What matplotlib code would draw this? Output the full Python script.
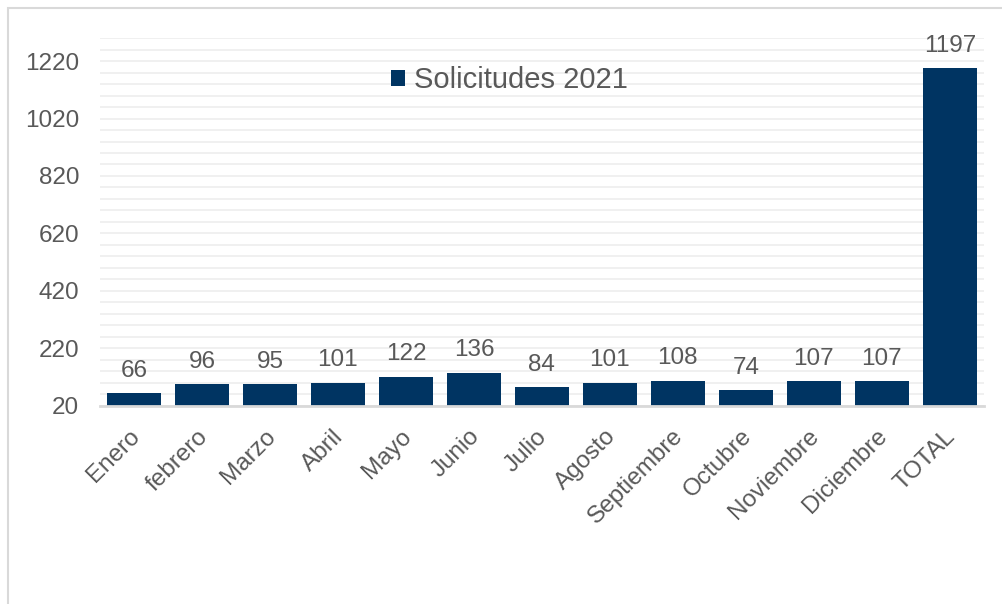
import numpy as np
import matplotlib.pyplot as plt
from matplotlib.patches import Rectangle
from matplotlib.transforms import ScaledTranslation

# monthly requests plus the yearly total
meses = ['Enero', 'febrero', 'Marzo', 'Abril', 'Mayo', 'Junio', 'Julio',
         'Agosto', 'Septiembre', 'Octubre', 'Noviembre', 'Diciembre', 'TOTAL']
solicitudes = [66, 96, 95, 101, 122, 136, 84, 101, 108, 74, 107, 107, 1197]
yticks = [20, 220, 420, 620, 820, 1020, 1220]

plt.rcParams['font.family'] = ['Liberation Sans', 'DejaVu Sans']
gris = '#595959'
azul = '#003462'

fig = plt.figure(figsize=(10.02, 6.04), dpi=100)
ax = fig.add_axes([0.0998, 0.328, 0.882, 0.609])

# light frame round the chart
fig.patches.append(Rectangle((8 / 1002, -0.1), 1.2, 1 - 8 / 604 + 0.1,
                             transform=fig.transFigure, fill=False,
                             edgecolor='#d9d9d9', linewidth=1.5))

x = np.arange(len(meses))
bars = ax.bar(x, solicitudes, width=0.8, color=azul, label='Solicitudes 2021', zorder=3)

for b, v in zip(bars, solicitudes):
    ax.annotate(str(v), (b.get_x() + b.get_width() / 2, v), xytext=(0, 8),
                textcoords='offset points', ha='center', va='bottom',
                fontsize=17.5, color=gris)

ax.set_xlim(-0.5, len(meses) - 0.5)
ax.set_ylim(20, 1300)
ax.set_yticks(yticks)
ax.set_yticks(np.arange(20, 1301, 40), minor=True)
ax.grid(axis='y', which='both', color='#eeeeee', linewidth=1.2, zorder=0)
ax.tick_params(axis='y', which='both', length=0, labelsize=17.5, labelcolor=gris, pad=15)
ax.tick_params(axis='x', length=0, labelsize=17.5, labelcolor=gris, pad=6)

ax.set_xticks(x)
ax.set_xticklabels(meses, rotation=45, ha='right', va='top', rotation_mode='anchor')
for lbl in ax.get_xticklabels():
    lbl.set_transform(lbl.get_transform() + ScaledTranslation(-4 / 72, -8 / 72, fig.dpi_scale_trans))

for s in ['top', 'right', 'left']:
    ax.spines[s].set_visible(False)
ax.spines['bottom'].set_color('#d9d9d9')
ax.spines['bottom'].set_linewidth(2)
ax.spines['bottom'].set_zorder(4)

ax.legend(loc='center left', bbox_to_anchor=(0.30, 0.886), frameon=False,
          fontsize=21, labelcolor=gris, handlelength=0.47, handleheight=0.47,
          handletextpad=0.31)

fig.savefig('out.png', dpi=100)
